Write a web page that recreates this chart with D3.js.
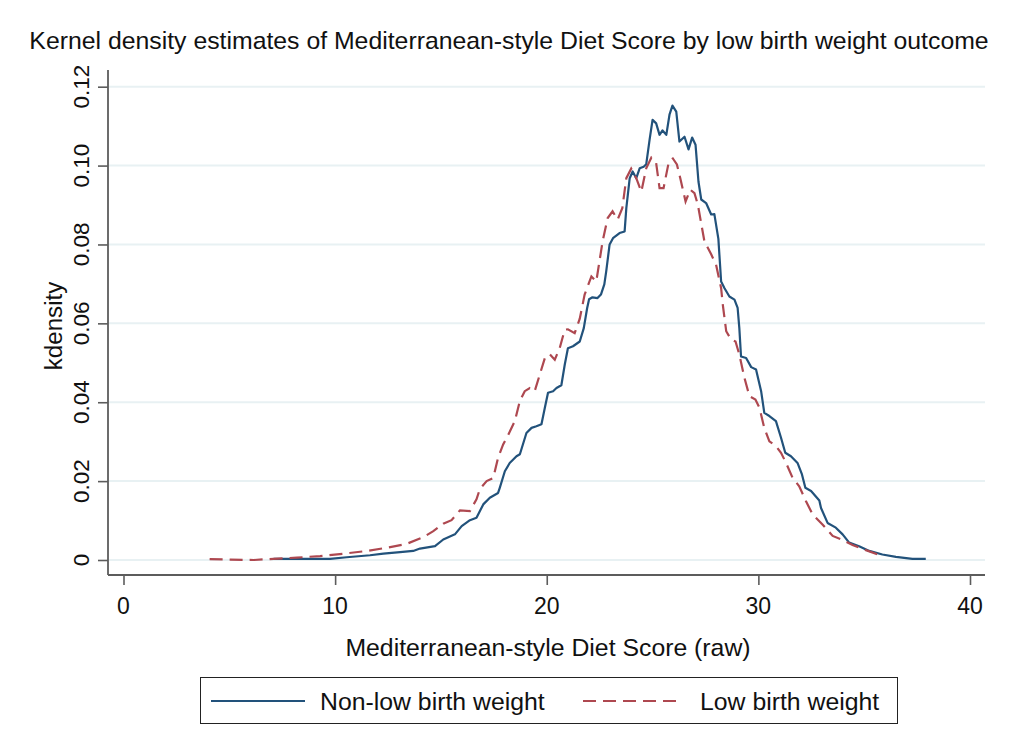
<!DOCTYPE html>
<html>
<head>
<meta charset="utf-8">
<script src="https://cdn.jsdelivr.net/npm/d3@7"></script>
<style>
  html, body { margin: 0; padding: 0; background: #ffffff; }
  svg { display: block; font-family: "Liberation Sans", Arial, sans-serif; }
</style>
</head>
<body>
<svg id="chart" width="1010" height="731"></svg>
<script>
// Diet score grid (raw) and kernel density for non-low birth weight births
const scoreNonLow = [7.09, 7.88, 8.98, 9.76, 10.55, 11.65, 12.28, 13.07, 13.69, 14.01, 14.72, 15.11, 15.66, 15.98, 16.37, 16.68, 17.00, 17.31, 17.70, 17.78, 18.02, 18.25, 18.57, 18.73, 19.04, 19.28, 19.51, 19.75, 19.91, 20.06, 20.30, 20.46, 20.69, 20.85, 21.00, 21.24, 21.56, 21.75, 21.91, 22.00, 22.16, 22.40, 22.56, 22.72, 22.81, 22.97, 23.13, 23.44, 23.68, 23.76, 23.92, 24.06, 24.23, 24.39, 24.58, 24.70, 24.86, 25.00, 25.17, 25.33, 25.47, 25.65, 25.80, 25.94, 26.12, 26.27, 26.51, 26.70, 26.87, 27.03, 27.17, 27.30, 27.53, 27.77, 27.92, 28.11, 28.24, 28.40, 28.63, 28.87, 29.02, 29.10, 29.18, 29.42, 29.66, 29.89, 30.13, 30.28, 30.52, 30.83, 31.07, 31.27, 31.54, 31.85, 32.06, 32.22, 32.49, 32.88, 32.96, 33.27, 33.66, 33.98, 34.29, 34.76, 35.24, 35.86, 36.50, 37.28, 37.91];
const densNonLow = [0.0003, 0.0003, 0.0003, 0.0003, 0.0007, 0.0012, 0.0016, 0.0020, 0.0023, 0.0029, 0.0035, 0.0052, 0.0065, 0.0086, 0.0101, 0.0107, 0.0141, 0.0158, 0.0170, 0.0183, 0.0225, 0.0246, 0.0263, 0.0268, 0.0322, 0.0335, 0.0339, 0.0344, 0.0386, 0.0424, 0.0428, 0.0436, 0.0443, 0.0495, 0.0537, 0.0542, 0.0554, 0.0588, 0.0639, 0.0661, 0.0666, 0.0664, 0.0673, 0.0699, 0.0732, 0.0800, 0.0816, 0.0829, 0.0833, 0.0892, 0.0968, 0.0985, 0.0968, 0.0993, 0.0997, 0.1003, 0.1066, 0.1116, 0.1107, 0.1078, 0.1089, 0.1078, 0.1129, 0.1152, 0.1137, 0.1061, 0.1073, 0.1041, 0.1071, 0.1053, 0.0959, 0.0914, 0.0905, 0.0876, 0.0877, 0.0814, 0.0706, 0.0689, 0.0668, 0.0660, 0.0639, 0.0588, 0.0516, 0.0512, 0.0489, 0.0483, 0.0428, 0.0373, 0.0365, 0.0352, 0.0310, 0.0272, 0.0263, 0.0246, 0.0217, 0.0183, 0.0175, 0.0151, 0.0132, 0.0094, 0.0082, 0.0065, 0.0044, 0.0035, 0.0023, 0.0014, 0.0008, 0.0003, 0.0003];

// Diet score grid (raw) and kernel density for low birth weight births
const scoreLow = [4.07, 5.05, 6.15, 7.09, 8.19, 9.29, 10.39, 11.50, 12.44, 13.38, 14.17, 14.64, 15.11, 15.50, 15.90, 16.37, 16.68, 16.84, 17.16, 17.47, 17.70, 17.94, 18.17, 18.49, 18.73, 18.96, 19.20, 19.43, 19.67, 19.91, 20.14, 20.38, 20.61, 20.85, 21.00, 21.32, 21.56, 21.79, 22.11, 22.34, 22.64, 22.88, 23.11, 23.35, 23.57, 23.76, 23.99, 24.23, 24.47, 24.70, 24.94, 25.17, 25.33, 25.52, 25.77, 25.96, 26.15, 26.31, 26.56, 26.78, 26.98, 27.14, 27.45, 27.77, 28.00, 28.24, 28.32, 28.48, 28.71, 28.92, 29.10, 29.34, 29.58, 29.86, 30.05, 30.28, 30.52, 30.83, 31.07, 31.31, 31.62, 31.93, 32.25, 32.56, 33.03, 33.51, 33.98, 34.45, 35.08, 35.86];
const densLow = [0.0002, 0.0001, 0.0000, 0.0003, 0.0006, 0.0010, 0.0016, 0.0023, 0.0031, 0.0041, 0.0058, 0.0073, 0.0092, 0.0101, 0.0126, 0.0124, 0.0154, 0.0180, 0.0200, 0.0208, 0.0259, 0.0293, 0.0316, 0.0352, 0.0403, 0.0428, 0.0436, 0.0428, 0.0470, 0.0512, 0.0522, 0.0508, 0.0537, 0.0584, 0.0585, 0.0575, 0.0612, 0.0673, 0.0719, 0.0706, 0.0808, 0.0867, 0.0884, 0.0863, 0.0892, 0.0968, 0.0992, 0.0968, 0.0934, 0.0993, 0.1020, 0.1006, 0.0943, 0.0943, 0.1010, 0.1018, 0.1003, 0.0968, 0.0909, 0.0939, 0.0930, 0.0901, 0.0808, 0.0775, 0.0749, 0.0689, 0.0647, 0.0580, 0.0559, 0.0554, 0.0521, 0.0462, 0.0415, 0.0407, 0.0386, 0.0335, 0.0301, 0.0289, 0.0272, 0.0246, 0.0208, 0.0187, 0.0149, 0.0116, 0.0090, 0.0061, 0.0051, 0.0038, 0.0025, 0.0010];

const xTicks = [0, 10, 20, 30, 40];
const xTickLabels = ["0", "10", "20", "30", "40"];
const yTicks = [0, 0.02, 0.04, 0.06, 0.08, 0.10, 0.12];
const yTickLabels = ["0", "0.02", "0.04", "0.06", "0.08", "0.10", "0.12"];
const seriesNames = ["Non-low birth weight", "Low birth weight"];

const titleText = "Kernel density estimates of Mediterranean-style Diet Score by low birth weight outcome";
const xTitle = "Mediterranean-style Diet Score (raw)";
const yTitle = "kdensity";

const navy = "#22527b";
const maroon = "#ae4850";
const axisColor = "#5c5c5c";
const gridColor = "#e8f1f3";
const textColor = "#111";

const svg = d3.select("#chart");

// plot region
const plotLeft = 108, plotRight = 985, axisY = 575, axisTop = 70;
const x = d3.scaleLinear().domain([0, 40]).range([123.5, 970]);
const y = d3.scaleLinear().domain([0, 0.12]).range([560, 86.7]);

// title
svg.append("text")
  .attr("x", 509).attr("y", 49)
  .attr("text-anchor", "middle")
  .attr("font-size", 24.8)
  .attr("fill", textColor)
  .text(titleText);

// horizontal gridlines
svg.append("g").selectAll("line").data(yTicks).join("line")
  .attr("x1", plotLeft + 1).attr("x2", plotRight)
  .attr("y1", d => y(d)).attr("y2", d => y(d))
  .attr("stroke", gridColor).attr("stroke-width", 2);

// y axis
const yAxis = svg.append("g").attr("transform", `translate(${plotLeft},0)`)
  .call(d3.axisLeft(y).tickValues(yTicks).tickSize(10).tickPadding(0).tickFormat(() => ""));
yAxis.select(".domain").remove();
yAxis.selectAll(".tick line").attr("stroke", axisColor).attr("stroke-width", 1.6);
svg.append("line")
  .attr("x1", plotLeft).attr("x2", plotLeft)
  .attr("y1", axisTop).attr("y2", axisY)
  .attr("stroke", axisColor).attr("stroke-width", 1.8);
svg.append("g").selectAll("text").data(yTicks).join("text")
  .attr("transform", d => `translate(89,${y(d)}) rotate(-90)`)
  .attr("text-anchor", "middle")
  .attr("font-size", 22.5)
  .attr("fill", textColor)
  .text((d, i) => yTickLabels[i]);

// x axis
const xAxis = svg.append("g").attr("transform", `translate(0,${axisY})`)
  .call(d3.axisBottom(x).tickValues(xTicks).tickSize(10).tickPadding(0).tickFormat(() => ""));
xAxis.select(".domain").remove();
xAxis.selectAll(".tick line").attr("stroke", axisColor).attr("stroke-width", 1.6);
svg.append("line")
  .attr("x1", plotLeft).attr("x2", plotRight)
  .attr("y1", axisY).attr("y2", axisY)
  .attr("stroke", axisColor).attr("stroke-width", 1.8);
svg.append("g").selectAll("text").data(xTicks).join("text")
  .attr("x", d => x(d)).attr("y", 614)
  .attr("text-anchor", "middle")
  .attr("font-size", 23)
  .attr("fill", textColor)
  .text((d, i) => xTickLabels[i]);

// axis titles
svg.append("text")
  .attr("x", 548).attr("y", 656)
  .attr("text-anchor", "middle")
  .attr("font-size", 24.8)
  .attr("fill", textColor)
  .text(xTitle);
svg.append("text")
  .attr("transform", "translate(62,326) rotate(-90)")
  .attr("text-anchor", "middle")
  .attr("font-size", 24.2)
  .attr("fill", textColor)
  .text(yTitle);

// density curves
const line = d3.line().x(d => x(d[0])).y(d => y(d[1]));
const nonLow = scoreNonLow.map((s, i) => [s, densNonLow[i]]);
const low = scoreLow.map((s, i) => [s, densLow[i]]);

svg.append("path").datum(nonLow)
  .attr("d", line)
  .attr("fill", "none")
  .attr("stroke", navy)
  .attr("stroke-width", 2.2)
  .attr("stroke-linejoin", "round");

svg.append("path").datum(low)
  .attr("d", line)
  .attr("fill", "none")
  .attr("stroke", maroon)
  .attr("stroke-width", 2.2)
  .attr("stroke-dasharray", "13 7");

// legend
const legend = svg.append("g");
legend.append("rect")
  .attr("x", 200.5).attr("y", 677.5)
  .attr("width", 697).attr("height", 46)
  .attr("fill", "#fff")
  .attr("stroke", "#222").attr("stroke-width", 1);
legend.append("line")
  .attr("x1", 211).attr("x2", 305).attr("y1", 701).attr("y2", 701)
  .attr("stroke", navy).attr("stroke-width", 2.2);
legend.append("text")
  .attr("x", 320).attr("y", 710)
  .attr("font-size", 24.8)
  .attr("fill", textColor)
  .text(seriesNames[0]);
legend.append("line")
  .attr("x1", 583).attr("x2", 676).attr("y1", 701).attr("y2", 701)
  .attr("stroke", maroon).attr("stroke-width", 2.2)
  .attr("stroke-dasharray", "13 7");
legend.append("text")
  .attr("x", 700).attr("y", 710)
  .attr("font-size", 24.8)
  .attr("fill", textColor)
  .text(seriesNames[1]);
</script>
</body>
</html>
